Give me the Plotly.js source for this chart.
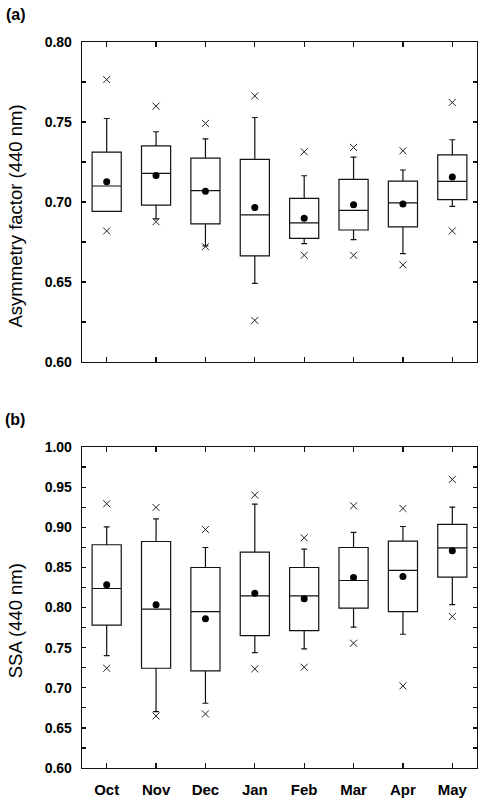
<!DOCTYPE html>
<html>
<head>
<meta charset="utf-8">
<script src="https://cdn.plot.ly/plotly-3.0.1.min.js"></script>
<style>html,body{margin:0;padding:0;background:#fff;}#chart{width:480px;height:801px;}</style>
</head>
<body>
<div id="chart"></div>
<script>
const categories = ['Oct','Nov','Dec','Jan','Feb','Mar','Apr','May'];

// Panel (a): Asymmetry factor (440 nm)
const gUpperX       = [0.7765,0.7599,0.7491,0.7663,0.7314,0.7341,0.7320,0.7622];
const gUpperWhisker = [0.7522,0.7439,0.7395,0.7528,0.7164,0.7281,0.7200,0.7389];
const gQ3           = [0.7312,0.7351,0.7274,0.7266,0.7023,0.7141,0.7131,0.7295];
const gMedian       = [0.7100,0.7179,0.7071,0.6919,0.6869,0.6948,0.6994,0.7129];
const gMean         = [0.7127,0.7166,0.7067,0.6965,0.6898,0.6983,0.6988,0.7156];
const gQ1           = [0.6942,0.6981,0.6863,0.6663,0.6773,0.6825,0.6844,0.7015];
const gLowerWhisker = [0.6942,0.6894,0.6726,0.6491,0.6740,0.6765,0.6678,0.6973];
const gLowerX       = [0.6819,0.6877,0.6721,0.6260,0.6667,0.6667,0.6607,0.6819];

// Panel (b): SSA (440 nm)
const sUpperX       = [0.9293,0.9247,0.8973,0.9401,0.8869,0.9268,0.9235,0.9597];
const sUpperWhisker = [0.9006,0.9106,0.8748,0.9289,0.8728,0.8936,0.9010,0.9252];
const sQ3           = [0.8782,0.8823,0.8499,0.8690,0.8499,0.8748,0.8827,0.9035];
const sMedian       = [0.8237,0.7979,0.7950,0.8146,0.8146,0.8337,0.8462,0.8744];
const sMean         = [0.8283,0.8033,0.7859,0.8179,0.8108,0.8374,0.8387,0.8707];
const sQ1           = [0.7780,0.7243,0.7210,0.7651,0.7713,0.7992,0.7950,0.8378];
const sLowerWhisker = [0.7401,0.6703,0.6807,0.7439,0.7484,0.7755,0.7667,0.8037];
const sLowerX       = [0.7243,0.6649,0.6674,0.7235,0.7256,0.7555,0.7023,0.7888];

// Tick labels
const gTickVals = [0.60,0.625,0.65,0.675,0.70,0.725,0.75,0.775,0.80];
const gTickText = ['0.60','','0.65','','0.70','','0.75','','0.80'];
const sTickVals = [0.60,0.625,0.65,0.675,0.70,0.725,0.75,0.775,0.80,0.825,0.85,0.875,0.90,0.925,0.95,0.975,1.00];
const sTickText = ['0.60','','0.65','','0.70','','0.75','','0.80','','0.85','','0.90','','0.95','','1.00'];

const FONT = 'Liberation Sans, Arial, Helvetica, sans-serif';
const INK = '#111';

function boxTrace(q1, med, q3, lf, uf, xa, ya) {
  return {
    type: 'box', x: categories, q1: q1, median: med, q3: q3,
    lowerfence: lf, upperfence: uf, xaxis: xa, yaxis: ya,
    boxpoints: false, width: 0.59, whiskerwidth: 0.2,
    line: {color: INK, width: 1.2}, fillcolor: 'rgba(0,0,0,0)',
    showlegend: false, hoverinfo: 'skip'
  };
}
function meanTrace(y, xa, ya) {
  return {type: 'scatter', mode: 'markers', x: categories, y: y, xaxis: xa, yaxis: ya,
    marker: {symbol: 'circle', size: 7, color: '#000'}, showlegend: false, hoverinfo: 'skip'};
}
function xTrace(y, xa, ya) {
  return {type: 'scatter', mode: 'markers', x: categories, y: y, xaxis: xa, yaxis: ya,
    marker: {symbol: 'x-thin', size: 7, line: {color: '#222', width: 1}}, showlegend: false, hoverinfo: 'skip'};
}

const data = [
  boxTrace(gQ1, gMedian, gQ3, gLowerWhisker, gUpperWhisker, 'x', 'y'),
  meanTrace(gMean, 'x', 'y'),
  xTrace(gUpperX, 'x', 'y'),
  xTrace(gLowerX, 'x', 'y'),
  boxTrace(sQ1, sMedian, sQ3, sLowerWhisker, sUpperWhisker, 'x2', 'y2'),
  meanTrace(sMean, 'x2', 'y2'),
  xTrace(sUpperX, 'x2', 'y2'),
  xTrace(sLowerX, 'x2', 'y2')
];

const xCommon = {
  type: 'category', range: [-0.5, 7.5], showgrid: false, zeroline: false,
  showline: true, linecolor: INK, linewidth: 1.3, mirror: 'ticks',
  ticks: 'inside', ticklen: 5, tickwidth: 1.3, tickcolor: INK,
  tickfont: {family: FONT, size: 15, color: '#000', weight: 'bold'}
};
const yCommon = {
  showgrid: false, zeroline: false, showline: true, linecolor: INK, linewidth: 1.3,
  mirror: 'ticks', ticks: 'inside', ticklen: 4, tickwidth: 1.3, tickcolor: INK,
  tickmode: 'array', ticklabelstandoff: 6,
  tickfont: {family: FONT, size: 14, color: '#000', weight: 'bold'}
};

const layout = {
  width: 480, height: 801,
  margin: {l: 82, r: 3, t: 42, b: 33},
  paper_bgcolor: '#fff', plot_bgcolor: '#fff',
  font: {family: FONT, color: '#000'},
  showlegend: false,
  xaxis: Object.assign({}, xCommon, {anchor: 'y', showticklabels: false}),
  xaxis2: Object.assign({}, xCommon, {anchor: 'y2', showticklabels: true, ticklabelstandoff: 8}),
  yaxis: Object.assign({}, yCommon, {anchor: 'x', domain: [0.5592, 1], range: [0.60, 0.80], tickvals: gTickVals, ticktext: gTickText}),
  yaxis2: Object.assign({}, yCommon, {anchor: 'x2', domain: [0, 0.4421], range: [0.60, 1.00], tickvals: sTickVals, ticktext: sTickText}),
  annotations: [
    {text: '(a)', xref: 'paper', yref: 'paper', x: -0.1975, y: 1.0379, xanchor: 'left', yanchor: 'middle', showarrow: false,
     font: {family: FONT, size: 16, weight: 'bold', color: '#000'}},
    {text: '(b)', xref: 'paper', yref: 'paper', x: -0.2, y: 0.48, xanchor: 'left', yanchor: 'middle', showarrow: false,
     font: {family: FONT, size: 16, weight: 'bold', color: '#000'}},
    {text: 'Asymmetry factor (440 nm)', xref: 'paper', yref: 'paper', x: -0.1684, y: 0.7603, xanchor: 'center', yanchor: 'middle',
     textangle: -90, showarrow: false, font: {family: FONT, size: 18.5, color: '#000'}},
    {text: 'SSA (440 nm)', xref: 'paper', yref: 'paper', x: -0.1684, y: 0.2028, xanchor: 'center', yanchor: 'middle',
     textangle: -90, showarrow: false, font: {family: FONT, size: 18.5, color: '#000'}}
  ]
};

Plotly.newPlot('chart', data, layout, {staticPlot: true, displayModeBar: false});
</script>
</body>
</html>
